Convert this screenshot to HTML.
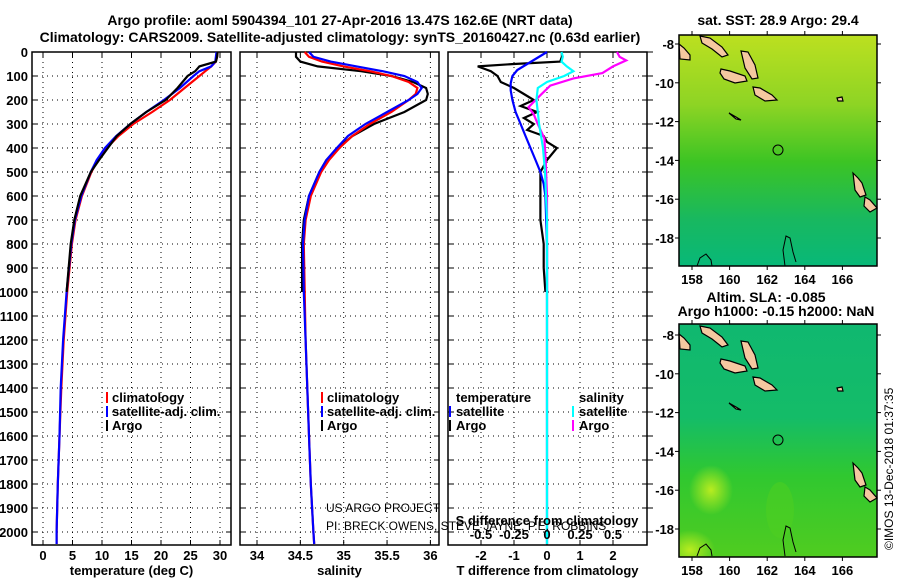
<!DOCTYPE html>
<html><head><meta charset="utf-8">
<style>
html,body{margin:0;padding:0;background:#fff;}
svg{display:block;font-family:"Liberation Sans",sans-serif;}
.b{font-weight:bold;font-size:13px;}
.t{font-weight:bold;font-size:14px;}
</style></head>
<body>
<svg id="fig" width="900" height="580" viewBox="0 0 900 580" xmlns="http://www.w3.org/2000/svg">
<defs>
<linearGradient id="sstg" x1="0" y1="0" x2="0" y2="1">
<stop offset="0" stop-color="#bce020"/><stop offset="0.3" stop-color="#8ed424"/><stop offset="0.55" stop-color="#3cc424"/><stop offset="0.8" stop-color="#18b860"/><stop offset="1" stop-color="#08b878"/>
</linearGradient>
<linearGradient id="slag" x1="0" y1="0" x2="0" y2="1">
<stop offset="0" stop-color="#10b870"/><stop offset="0.4" stop-color="#14bc68"/><stop offset="0.65" stop-color="#30c830"/><stop offset="1" stop-color="#50cc20"/>
</linearGradient>
<radialGradient id="blob1"><stop offset="0" stop-color="#b8ec20"/><stop offset="1" stop-color="#b8ec20" stop-opacity="0"/></radialGradient>
<clipPath id="mapclip2"><rect x="679" y="324" width="198" height="233"/></clipPath>
</defs>

<text class="t" x="340" y="25" text-anchor="middle">Argo profile: aoml 5904394_101 27-Apr-2016 13.47S 162.6E (NRT data)</text>
<text class="t" x="340" y="42" text-anchor="middle">Climatology: CARS2009. Satellite-adjusted climatology: synTS_20160427.nc (0.63d earlier)</text>

<g id="p1"></g>
<g id="p2"></g>
<g id="p3"></g>

<text x="326" y="512" font-size="12">US ARGO PROJECT</text>
<text x="326" y="530" font-size="12">PI: BRECK OWENS, STEVE JAYNE, P.E. ROBBINS</text>

<g>
<rect x="106" y="392" width="2" height="11" fill="#f00"/><text class="b" x="112" y="402">climatology</text>
<rect x="106" y="406" width="2" height="11" fill="#00f"/><text class="b" x="112" y="416">satellite-adj. clim.</text>
<rect x="106" y="420" width="2" height="11" fill="#000"/><text class="b" x="112" y="430">Argo</text>
</g>
<g>
<rect x="321" y="392" width="2" height="11" fill="#f00"/><text class="b" x="327" y="402">climatology</text>
<rect x="321" y="406" width="2" height="11" fill="#00f"/><text class="b" x="327" y="416">satellite-adj. clim.</text>
<rect x="321" y="420" width="2" height="11" fill="#000"/><text class="b" x="327" y="430">Argo</text>
</g>
<g>
<text class="b" x="456" y="402">temperature</text>
<rect x="449" y="406" width="2" height="11" fill="#00f"/><text class="b" x="456" y="416">satellite</text>
<rect x="449" y="420" width="2" height="11" fill="#000"/><text class="b" x="456" y="430">Argo</text>
<text class="b" x="579" y="402">salinity</text>
<rect x="572" y="406" width="2" height="11" fill="#0ff"/><text class="b" x="579" y="416">satellite</text>
<rect x="572" y="420" width="2" height="11" fill="#f0f"/><text class="b" x="579" y="430">Argo</text>
</g>

<!-- maps -->
<text class="t" x="778" y="25" text-anchor="middle">sat. SST: 28.9 Argo: 29.4</text>
<g>
<rect x="679" y="35" width="198" height="231" fill="url(#sstg)"/>
<g id="isl"></g>
</g>
<text class="t" x="766" y="302" text-anchor="middle">Altim. SLA: -0.085</text>
<text class="t" x="776" y="316" text-anchor="middle">Argo h1000: -0.15 h2000: NaN</text>
<g>
<rect x="679" y="324" width="198" height="233" fill="url(#slag)"/>
<g clip-path="url(#mapclip2)">
<ellipse cx="711" cy="490" rx="22" ry="25" fill="url(#blob1)"/>
<ellipse cx="690" cy="550" rx="25" ry="20" fill="url(#blob1)"/>
<ellipse cx="780" cy="510" rx="14" ry="28" fill="#50d020" opacity="0.5"/>
</g>
<g id="isl2" transform="translate(0,290)"></g>
</g>
<text x="893" y="550" font-size="12" transform="rotate(-90 893 550)">©IMOS 13-Dec-2018 01:37:35</text>

<script>
// ---- Temperature panel data ----
const tDepths = [0,20,40,60,80,100,150,200,250,300,350,400,450,500,600,700,800,1000,1200,1400,1600,1800,2000,2050];
const tClim =   [29.6,29.5,29.3,28.5,27.5,26.5,24,21.5,18.5,15.3,12.8,10.8,9.3,8.2,6.6,5.5,4.9,4.1,3.5,3.1,2.8,2.5,2.3,2.3];
const tSat =    [29.4,29.3,29.2,28.5,26.5,25.5,23.2,20.5,17.5,14.8,12.4,10.5,9.1,8.1,6.5,5.4,4.8,4.0,3.4,3.0,2.8,2.5,2.3,2.3];
const aDepths = [0,20,40,60,80,100,150,200,250,300,350,400,450,500,600,700,800,1000];
const tArgo =   [29.6,29.5,29.3,26.5,25.8,24.5,22.8,20.8,17.5,14.8,12.5,11.0,9.5,8.1,6.3,5.3,4.7,4.0];
const tTicks = [0,5,10,15,20,25,30];
// ---- Salinity panel data ----
const sDepths = [0,20,40,60,80,100,125,150,175,200,250,300,350,400,450,500,600,700,800,1000,1200,1400,1600,1800,2000,2050];
const sClim = [34.55,34.6,34.75,35.0,35.3,35.55,35.75,35.85,35.83,35.75,35.55,35.3,35.1,34.95,34.83,34.74,34.62,34.56,34.54,34.55,34.56,34.58,34.6,34.62,34.65,34.66];
const sSat =  [34.6,34.65,34.85,35.15,35.45,35.7,35.85,35.9,35.85,35.75,35.5,35.25,35.05,34.92,34.8,34.72,34.6,34.55,34.53,34.54,34.56,34.58,34.6,34.62,34.65,34.66];
const saDepths = [0,20,40,60,80,100,125,150,175,200,250,300,350,400,450,500,600,700,800,1000];
const sArgo = [34.45,34.45,34.5,34.7,35.2,35.55,35.8,35.95,35.97,35.95,35.7,35.35,35.1,34.93,34.8,34.72,34.6,34.54,34.52,34.52];
const sTicks = [34,34.5,35,35.5,36];
const sTickLabels = ["34","34.5","35","35.5","36"];
// ---- Difference panel data ----
const dtArgoDepths = [0,20,40,50,60,80,100,125,150,175,200,225,250,275,300,325,350,375,400,450,500,600,700,800,900,1000];
const dtArgo = [0.45,0.45,0.4,-1.0,-2.1,-1.7,-1.5,-1.4,-1.0,-0.7,-0.4,-0.8,-0.3,-0.7,-0.4,-0.6,-0.1,0,0.3,0,-0.2,-0.2,-0.2,-0.1,-0.1,-0.05];
const dtSatDepths = [0,25,50,75,100,130,160,200,250,300,350,400,450,500,550,600,800,1000,1500,2050];
const dtSat = [0,-0.3,-0.6,-0.9,-1.05,-1.1,-1.1,-1.05,-0.95,-0.8,-0.65,-0.5,-0.35,-0.2,-0.1,-0.05,0,0,0,0];
const dsSatDepths = [0,20,40,60,80,100,125,150,200,250,300,400,500,700,1000,2050];
const dsSat = [0.11,0.12,0.11,0.15,0.2,0.13,0.0,-0.07,-0.08,-0.07,-0.06,-0.03,-0.015,0,0,0];
const dsArgoDepths = [0,20,35,60,88,110,140,180,230,260,300,360,450,600,800,1000];
const dsArgo = [0.53,0.55,0.6,0.5,0.42,0.2,0.025,-0.05,-0.14,-0.1,-0.07,-0.02,-0.01,0,0,0];
const dtTicks = [-2,-1,0,1,2];
const dsTicks = [-0.5,-0.25,0,0.25,0.5];
const dsTickLabels = ["-0.5","-0.25","0","0.25","0.5"];
const depthTicks = [0,100,200,300,400,500,600,700,800,900,1000,1100,1200,1300,1400,1500,1600,1700,1800,1900,2000];

const NS='http://www.w3.org/2000/svg';
const svg=document.getElementById('fig');
const TOP=52, BOT=545;
function yD(d){return TOP + d*0.24;}
function mk(tag,attrs,parent){const e=document.createElementNS(NS,tag);for(const k in attrs)e.setAttribute(k,attrs[k]);parent.appendChild(e);return e;}

function frame(g,x0,x1,xs,ticks,labels,leftLabels,xtitle){
  for(const d of depthTicks){ if(d===0)continue;
    const l=mk('line',{x1:x0,x2:x1,y1:yD(d),y2:yD(d),stroke:'#000','stroke-width':1,'stroke-dasharray':'1,4'},g);
    
    
    mk('line',{x1:x0,x2:x0+5,y1:yD(d),y2:yD(d),stroke:'#000'},g);
    mk('line',{x1:x1-5,x2:x1,y1:yD(d),y2:yD(d),stroke:'#000'},g);
  }
  ticks.forEach((v,i)=>{const x=xs(v);
    const l=mk('line',{x1:x,x2:x,y1:TOP,y2:BOT,stroke:'#000','stroke-width':1,'stroke-dasharray':'1,4'},g);
    
    
    mk('line',{x1:x,x2:x,y1:BOT-5,y2:BOT,stroke:'#000'},g);
    mk('line',{x1:x,x2:x,y1:TOP,y2:TOP+5,stroke:'#000'},g);
    const t=mk('text',{x:x,y:560,'text-anchor':'middle',class:'b'},g);t.textContent=labels[i];
    
    
  });
  const r=mk('rect',{x:x0,y:TOP,width:x1-x0,height:BOT-TOP,fill:'none',stroke:'#000','stroke-width':1.5},g);
  
  
  if(leftLabels){for(const d of depthTicks){const t=mk('text',{x:28,y:yD(d)+5,'text-anchor':'end',class:'b'},g);t.textContent=d;
    
    }}
  const tt=mk('text',{x:(x0+x1)/2,y:575,'text-anchor':'middle',class:'b'},g);tt.textContent=xtitle;
  
  
}
function line(g,depths,vals,xs,color,name){
  const pts=depths.map((d,i)=>xs(vals[i]).toFixed(1)+','+yD(d).toFixed(1)).join(' ');
  const p=mk('polyline',{points:pts,fill:'none',stroke:color,'stroke-width':2.2,'stroke-linejoin':'miter'},g);
  
  
}
const g1=document.getElementById('p1');
const xT=v=>43+v*5.9;
frame(g1,32,231,xT,tTicks,tTicks.map(String),true,'temperature (deg C)');
line(g1,tDepths,tClim,xT,'#f00','temperature-climatology-line');
line(g1,tDepths,tSat,xT,'#00f','temperature-satellite-line');
line(g1,aDepths,tArgo,xT,'#000','temperature-argo-line');
const g2=document.getElementById('p2');
const xS=v=>257+(v-34)*86.7;
frame(g2,240,439,xS,sTicks,sTickLabels,false,'salinity');
line(g2,saDepths,sArgo,xS,'#000','salinity-argo-line');
line(g2,sDepths,sClim,xS,'#f00','salinity-climatology-line');
line(g2,sDepths,sSat,xS,'#00f','salinity-satellite-line');
const g3=document.getElementById('p3');
const xDT=v=>547+v*33;
const xDS=v=>547+v*132;
frame(g3,448,647,xDT,dtTicks,dtTicks.map(String),false,'T difference from climatology');
for(const d of depthTicks){mk('line',{x1:647,x2:653,y1:yD(d),y2:yD(d),stroke:'#000'},g3);}
line(g3,dtArgoDepths,dtArgo,xDT,'#000','temperature-argo-difference-line');
line(g3,dsArgoDepths,dsArgo,xDS,'#f0f','salinity-argo-difference-line');
line(g3,dtSatDepths,dtSat,xDT,'#00f','temperature-satellite-difference-line');
line(g3,dsSatDepths,dsSat,xDS,'#0ff','salinity-satellite-difference-line');
dsTicks.forEach((v,i)=>{const t=mk('text',{x:xDS(v),y:539,'text-anchor':'middle',class:'b'},g3);t.textContent=dsTickLabels[i];
  
  });
const st=mk('text',{x:547,y:525,'text-anchor':'middle',class:'b'},g3);st.textContent='S difference from climatology';



function islands(g){
  const polys=["700,36 710,38 722,47 728,55 722,57 712,49 702,43","741,51 748,52 755,65 758,78 752,79 745,68","721,69 730,71 745,76 747,81 735,83 724,79 720,73","753,87 760,88 772,95 777,100 765,101 755,95","679,44 684,48 690,55 690,60 680,59","729,113 736,117 741,120 736,119","853,173 858,178 862,183 866,195 860,197 855,190","865,197 870,200 877,208 870,212 864,206","837,98 842,97 843,101 838,101"];
  polys.forEach(p=>{const e=mk('polygon',{points:p,fill:'#f5c8a0',stroke:'#000','stroke-width':1.2},g);
    
    });
  mk('circle',{cx:778,cy:150,r:5,fill:'none',stroke:'#000','stroke-width':1},g);
  mk('polyline',{points:"785,266 783,250 786,236 790,238 793,252 796,262",fill:'none',stroke:'#000','stroke-width':1},g);
  mk('polyline',{points:"697,266 700,258 706,254 711,260 712,266",fill:'none',stroke:'#000','stroke-width':1},g);
}
function mapAxes(y0,y1,latTop){
  const lons=[158,160,162,164,166];
  lons.forEach(l=>{const x=692+(l-158)*18.8;
    mk('line',{x1:x,x2:x,y1:y1,y2:y1+4,stroke:'#000'},svg);
    mk('line',{x1:x,x2:x,y1:y0-4,y2:y0,stroke:'#000'},svg);
    const t=mk('text',{x:x,y:y1+18,'text-anchor':'middle',class:'b'},svg);t.textContent=l;
    
    });
  [-8,-10,-12,-14,-16,-18].forEach(la=>{const y=latTop+(-8-la)*19.4;
    mk('line',{x1:675,x2:679,y1:y,y2:y,stroke:'#000'},svg);
    mk('line',{x1:877,x2:881,y1:y,y2:y,stroke:'#000'},svg);
    const t=mk('text',{x:674,y:y+5,'text-anchor':'end',class:'b'},svg);t.textContent=la;
    
    });
  mk('rect',{x:679,y:y0,width:198,height:y1-y0,fill:'none',stroke:'#000','stroke-width':1.5},svg);
}
islands(document.getElementById('isl'));
islands(document.getElementById('isl2'));
mapAxes(35,266,44);
mapAxes(324,557,335);
</script>
</svg>
</body></html>
